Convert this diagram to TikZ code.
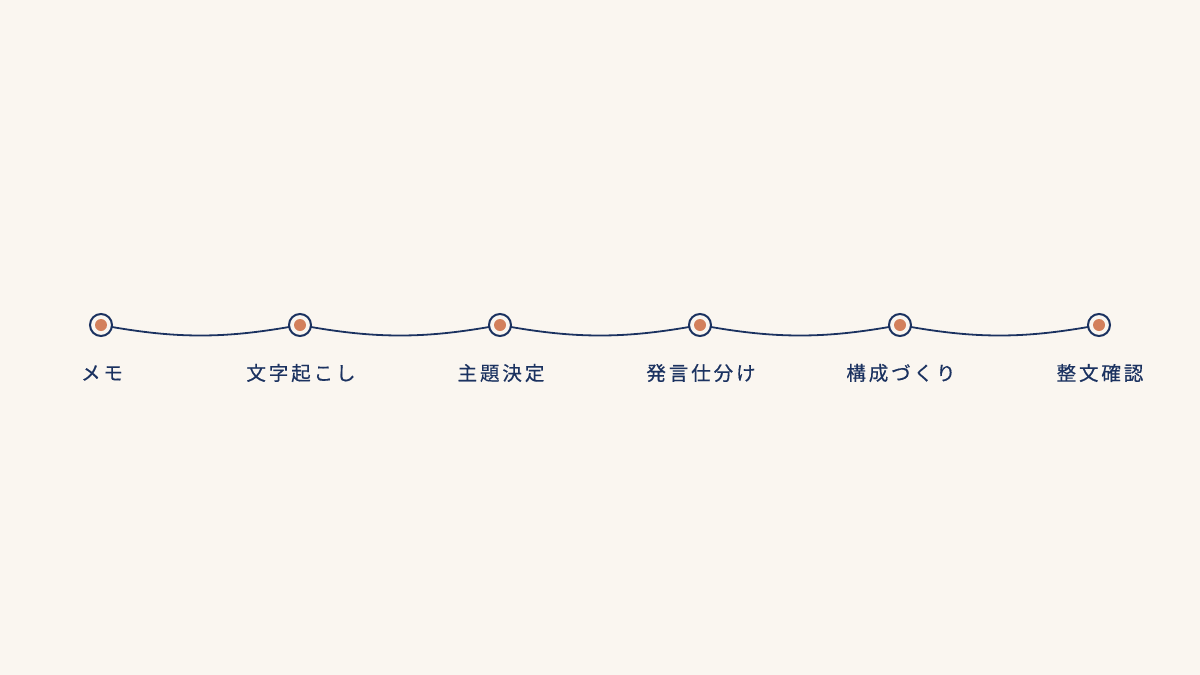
\documentclass[tikz,border=0pt]{standalone}
\usepackage{fontspec}
\usetikzlibrary{calc}
\newfontfamily\cjk[LetterSpace=15,FakeBold=0.5]{Noto Sans CJK JP}
\definecolor{bg}{HTML}{FAF6F0}
\definecolor{navy}{HTML}{1B3260}
\definecolor{dot}{HTML}{D3805C}
\begin{document}
\begin{tikzpicture}[x=1pt,y=-1pt,
  ring/.style={circle,draw=navy,line width=2pt,fill=bg,minimum size=22pt,inner sep=0pt},
  core/.style={circle,fill=dot,minimum size=12pt,inner sep=0pt},
  lbl/.style={text=navy,font=\cjk\fontsize{19.5}{22}\selectfont,anchor=center,inner sep=0pt},
  wave/.style={draw=navy,line width=1.8pt}]
\fill[bg] (0,0) rectangle (1200,675);
\useasboundingbox (0,0) rectangle (1200,675);
\foreach \i/\x in {1/101,2/300,3/500,4/700,5/900,6/1099}{
  \coordinate (c\i) at (\x,325);
}
\foreach \i/\j in {1/2,2/3,3/4,4/5,5/6}{
  \draw[wave] (c\i) .. controls ($(c\i)+(75,14)$) and ($(c\j)+(-75,14)$) .. (c\j);
}
\foreach \i/\t in {1/メモ,2/文字起こし,3/主題決定,4/発言仕分け,5/構成づくり,6/整文確認}{
  \node[ring] (r\i) at (c\i) {};
  \node[core] (d\i) at (c\i) {};
  \node[lbl] (l\i) at ($(c\i)+(1,48)$) {\t};
}
\end{tikzpicture}
\end{document}
